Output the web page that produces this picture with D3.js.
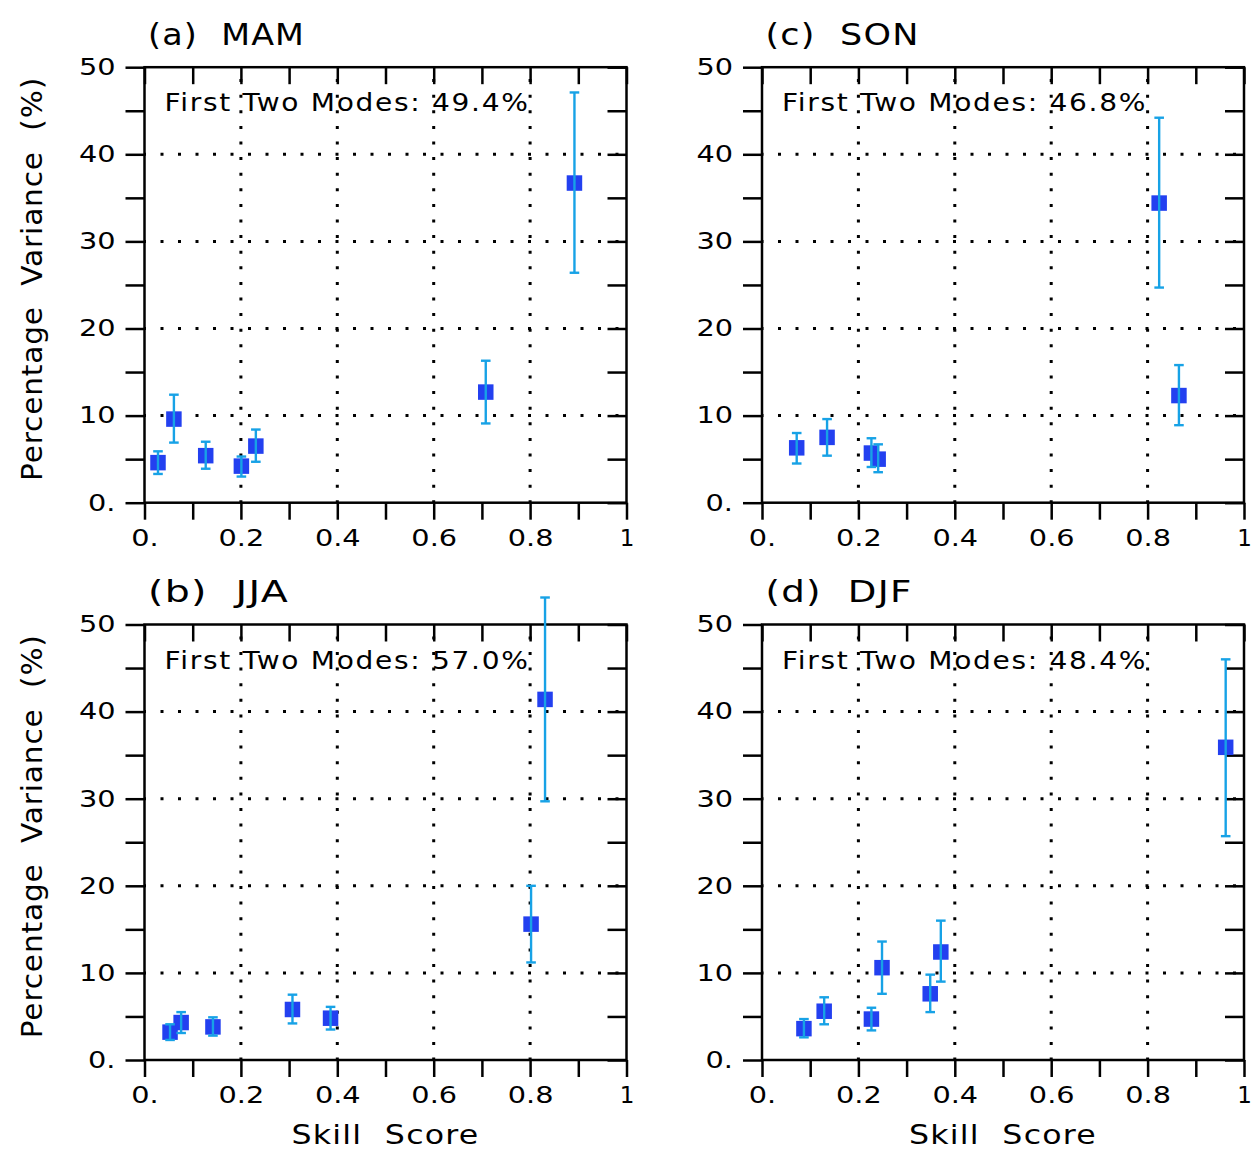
<!DOCTYPE html>
<html>
<head>
<meta charset="utf-8">
<script src="https://cdn.jsdelivr.net/npm/d3@7"></script>
<style>
  body { margin: 0; background: #fff; }
  text { font-family: "DejaVu Sans", sans-serif; fill: #000; white-space: pre; }
</style>
</head>
<body>
<svg id="chart" width="1252" height="1151"></svg>
<script>
// ---- data ----
const panelLetters = ["(a)", "(b)", "(c)", "(d)"];
const seasons = ["MAM", "JJA", "SON", "DJF"];
const modesPct = ["49.4%", "57.0%", "46.8%", "48.4%"];

const mamSkill = [0.028, 0.061, 0.127, 0.201, 0.231, 0.708, 0.892];
const mamVar   = [4.6, 9.6, 5.4, 4.2, 6.5, 12.7, 36.7];
const mamHi    = [5.9, 12.4, 7.0, 5.3, 8.4, 16.3, 47.1];
const mamLo    = [3.3, 6.9, 3.9, 3.0, 4.7, 9.1, 26.4];

const jjaSkill = [0.053, 0.076, 0.142, 0.307, 0.386, 0.802, 0.831];
const jjaVar   = [3.2, 4.3, 3.8, 5.8, 4.8, 15.6, 41.4];
const jjaHi    = [4.1, 5.5, 4.9, 7.5, 6.1, 20.0, 53.1];
const jjaLo    = [2.3, 3.1, 2.8, 4.2, 3.5, 11.2, 29.7];

const sonSkill = [0.072, 0.135, 0.227, 0.241, 0.824, 0.865];
const sonVar   = [6.3, 7.5, 5.7, 5.0, 34.4, 12.3];
const sonHi    = [8.0, 9.6, 7.4, 6.7, 44.2, 15.8];
const sonLo    = [4.5, 5.4, 4.1, 3.5, 24.7, 8.9];

const djfSkill = [0.087, 0.129, 0.227, 0.249, 0.349, 0.371, 0.962];
const djfVar   = [3.6, 5.6, 4.7, 10.6, 7.6, 12.4, 35.9];
const djfHi    = [4.7, 7.2, 6.0, 13.6, 9.8, 16.0, 46.0];
const djfLo    = [2.6, 4.1, 3.4, 7.6, 5.5, 9.0, 25.7];

const xTickValues = [0, 0.2, 0.4, 0.6, 0.8, 1];
const xTickLabels = ["0.", "0.2", "0.4", "0.6", "0.8", "1"];
const yTickValues = [0, 10, 20, 30, 40, 50];
const yTickLabels = ["0.", "10", "20", "30", "40", "50"];
const xGrid = [0.2, 0.4, 0.6, 0.8];
const yGrid = [10, 20, 30, 40];

// ---- layout ----
const W = 482, H = 435.5;
const markerColor = "#2340f0";
const errColor = "#17a2e6";
const titleLengths = [157, 141, 154, 147];

const panels = [
  { left: 144.5, top: 67.2,  skill: mamSkill, v: mamVar, hi: mamHi, lo: mamLo, yLabel: true,  xLabel: false },
  { left: 144.5, top: 624.5, skill: jjaSkill, v: jjaVar, hi: jjaHi, lo: jjaLo, yLabel: true,  xLabel: true  },
  { left: 762,   top: 67.2,  skill: sonSkill, v: sonVar, hi: sonHi, lo: sonLo, yLabel: false, xLabel: false },
  { left: 762,   top: 624.5, skill: djfSkill, v: djfVar, hi: djfHi, lo: djfLo, yLabel: false, xLabel: true  }
];

const svg = d3.select("#chart");

function labelFrom(values, labels) {
  return d => {
    const i = values.findIndex(v => Math.abs(v - d) < 1e-9);
    return i < 0 ? "" : labels[i];
  };
}

// black ticks, wide tick labels (stretched a bit like the original vector font)
function styleAxis(sel) {
  sel.select(".domain").remove();
  sel.selectAll("line").attr("stroke", "#000").attr("stroke-width", 2.5);
  sel.selectAll("text").attr("font-size", 23).attr("fill", "#000")
    .each(function() {
      const t = d3.select(this).text();
      if (t.length > 1) {
        const len = this.getComputedTextLength();
        d3.select(this).attr("textLength", len * 1.25).attr("lengthAdjust", "spacingAndGlyphs");
      }
    });
}

panels.forEach((p, idx) => {
  const g = svg.append("g").attr("transform", `translate(${p.left},${p.top})`);

  const x = d3.scaleLinear().domain([0, 1]).range([0, W]);
  const y = d3.scaleLinear().domain([0, 50]).range([H, 0]);

  // dotted grid
  g.append("g").selectAll("line")
    .data(yGrid).enter().append("line")
    .attr("x1", 0).attr("x2", W)
    .attr("y1", d => y(d)).attr("y2", d => y(d))
    .attr("stroke", "#000").attr("stroke-width", 3)
    .attr("stroke-dasharray", "3 14.5").attr("stroke-dashoffset", 1.5);

  g.append("g").selectAll("line")
    .data(xGrid).enter().append("line")
    .attr("x1", d => x(d)).attr("x2", d => x(d))
    .attr("y1", H).attr("y2", 0)
    .attr("stroke", "#000").attr("stroke-width", 3)
    .attr("stroke-dasharray", "3 12.6").attr("stroke-dashoffset", 0.6);

  // axes: ticks outward on left/bottom, inward on top/right
  const minorX = d3.range(0, 11).map(i => i / 10);
  const minorY = d3.range(0, 11).map(i => i * 5);

  g.append("g").attr("transform", `translate(0,${H})`)
    .call(d3.axisBottom(x).tickValues(minorX).tickSize(17).tickPadding(10)
      .tickFormat(labelFrom(xTickValues, xTickLabels)))
    .call(styleAxis);

  g.append("g")
    .call(d3.axisTop(x).tickValues(minorX).tickSize(-17).tickFormat(""))
    .call(styleAxis);

  g.append("g")
    .call(d3.axisLeft(y).tickValues(minorY).tickSize(19).tickPadding(10)
      .tickFormat(labelFrom(yTickValues, yTickLabels)))
    .call(styleAxis);

  g.append("g").attr("transform", `translate(${W},0)`)
    .call(d3.axisRight(y).tickValues(minorY).tickSize(-19).tickFormat(""))
    .call(styleAxis);

  // frame
  g.append("rect").attr("x", 0).attr("y", 0).attr("width", W).attr("height", H)
    .attr("fill", "none").attr("stroke", "#000").attr("stroke-width", 2.5);

  // markers
  const pts = p.skill.map((s, i) => ({ s: s, v: p.v[i], hi: p.hi[i], lo: p.lo[i] }));
  g.append("g").selectAll("rect")
    .data(pts).enter().append("rect")
    .attr("x", d => x(d.s) - 7.75).attr("y", d => y(d.v) - 7.75)
    .attr("width", 15.5).attr("height", 15.5)
    .attr("fill", markerColor);

  // error bars drawn on top of the squares
  const eb = g.append("g").attr("stroke", errColor).attr("stroke-width", 2.4).attr("fill", "none");
  eb.selectAll("line.v").data(pts).enter().append("line").attr("class", "v")
    .attr("x1", d => x(d.s)).attr("x2", d => x(d.s))
    .attr("y1", d => y(d.hi)).attr("y2", d => y(d.lo));
  eb.selectAll("line.t").data(pts).enter().append("line").attr("class", "t")
    .attr("x1", d => x(d.s) - 4.8).attr("x2", d => x(d.s) + 4.8)
    .attr("y1", d => y(d.hi)).attr("y2", d => y(d.hi));
  eb.selectAll("line.b").data(pts).enter().append("line").attr("class", "b")
    .attr("x1", d => x(d.s) - 4.8).attr("x2", d => x(d.s) + 4.8)
    .attr("y1", d => y(d.lo)).attr("y2", d => y(d.lo));

  // texts
  g.append("text")
    .attr("x", 3.5).attr("y", -22.5)
    .attr("font-size", 30)
    .attr("letter-spacing", 1)
    .attr("textLength", titleLengths[idx]).attr("lengthAdjust", "spacingAndGlyphs")
    .text(panelLetters[idx] + "  " + seasons[idx]);

  g.append("text")
    .attr("x", 20).attr("y", 44)
    .attr("font-size", 25)
    .attr("letter-spacing", 1.5)
    .attr("textLength", 365).attr("lengthAdjust", "spacingAndGlyphs")
    .text("First Two Modes: " + modesPct[idx]);

  if (p.yLabel) {
    g.append("text")
      .attr("transform", `translate(${42 - p.left},${H / 2 - 6}) rotate(-90)`)
      .attr("text-anchor", "middle")
      .attr("font-size", 28)
      .attr("letter-spacing", 0.8)
      .attr("textLength", 404).attr("lengthAdjust", "spacingAndGlyphs")
      .text("Percentage  Variance  (%)");
  }

  if (p.xLabel) {
    g.append("text")
      .attr("x", W / 2).attr("y", H + 84)
      .attr("text-anchor", "middle")
      .attr("font-size", 26)
      .attr("letter-spacing", 1)
      .attr("textLength", 188).attr("lengthAdjust", "spacingAndGlyphs")
      .text("Skill  Score");
  }
});
</script>
</body>
</html>
